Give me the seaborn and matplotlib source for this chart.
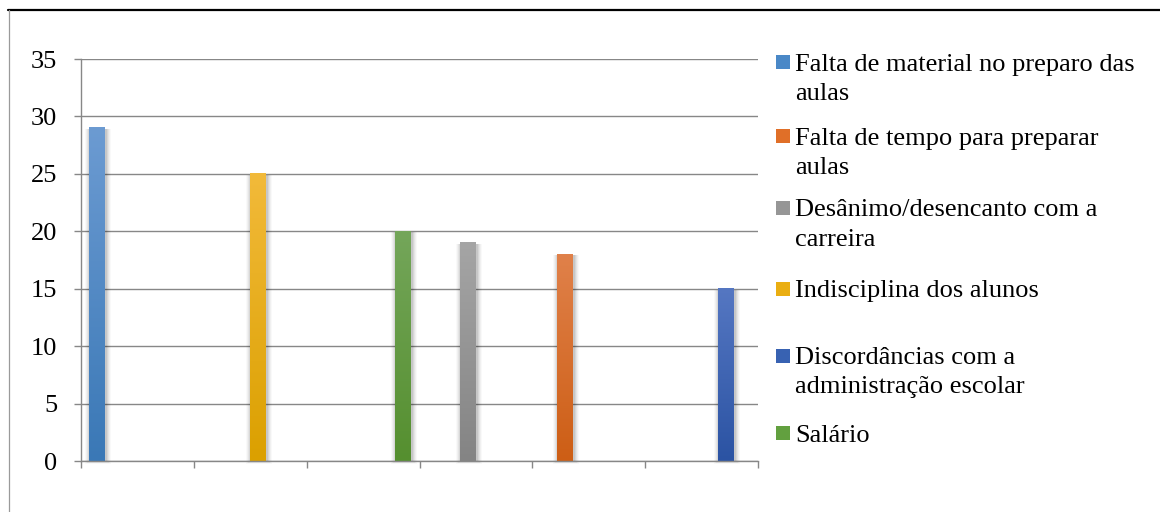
import numpy as np
import pandas as pd
import matplotlib
matplotlib.use("Agg")
import matplotlib.pyplot as plt
import seaborn as sns
from matplotlib.patches import Rectangle
from matplotlib.lines import Line2D
from matplotlib.colors import to_rgb

# Series (legend order)
series = [
    "Falta de material no preparo das aulas",
    "Falta de tempo para preparar aulas",
    "Desânimo/desencanto com a carreira",
    "Indisciplina dos alunos",
    "Discordâncias com a administração escolar",
    "Salário",
]
legend_labels = [
    "Falta de material no preparo das\naulas",
    "Falta de tempo para preparar\naulas",
    "Desânimo/desencanto com a\ncarreira",
    "Indisciplina dos alunos",
    "Discordâncias com a\nadministração escolar",
    "Salário",
]

# One bar per category group
categories = ["1", "2", "3", "4", "5", "6"]
bar_category = ["1", "2", "3", "4", "5", "6"]
bar_series = [series[0], series[3], series[5], series[2], series[1], series[4]]
bar_values = [29, 25, 20, 19, 18, 15]

# Fill colours per series: light top, dark bottom, flat legend swatch
colors_top = ["#6c9bd2", "#e0814a", "#a5a5a5", "#f2ba3a", "#5577c2", "#74a65a"]
colors_bottom = ["#3a78b6", "#cd5e15", "#848484", "#dba000", "#2b53a3", "#558f2f"]
colors_swatch = ["#4a88c7", "#e06f28", "#969696", "#eaae12", "#3862b2", "#62a03f"]

sns.set_theme(style="white")
plt.rcParams["font.family"] = ["Liberation Serif", "DejaVu Serif"]

W, H = 1160, 512
fig = plt.figure(figsize=(W / 100, H / 100), dpi=100)
fig.patch.set_facecolor("white")

ax_l, ax_r, ax_t, ax_b = 81, 758, 59, 461
ax = fig.add_axes([ax_l / W, 1 - ax_b / H, (ax_r - ax_l) / W, (ax_b - ax_t) / H])

df = pd.DataFrame({"categoria": bar_category, "serie": bar_series, "valor": bar_values})
sns.barplot(
    data=df, x="categoria", y="valor", hue="serie",
    order=categories, hue_order=series,
    palette=dict(zip(series, colors_swatch)),
    width=0.85, dodge=True, gap=0, errorbar=None, legend=False, ax=ax,
    linewidth=0,
)

ax.set_xlim(-0.5, len(categories) - 0.5)
ax.set_ylim(0, 35)

# Vertical gradient + soft shadow on every bar
px_x = (len(categories)) / (ax_r - ax_l)
px_y = 35 / (ax_b - ax_t)
swatch_rgb = [np.array(to_rgb(c)) for c in colors_swatch]
for p in list(ax.patches):
    h = p.get_height()
    if not np.isfinite(h) or h <= 0:
        continue
    x0, w = p.get_x(), p.get_width()
    fc = np.array(p.get_facecolor()[:3])
    k = int(np.argmin([np.sum((fc - s) ** 2) for s in swatch_rgb]))
    # layered translucent halo, slightly offset to the lower right
    for d, a in [(5, 0.025), (4, 0.035), (3, 0.045), (2, 0.06), (1, 0.07)]:
        ax.add_patch(Rectangle((x0 - (d - 1) * px_x, -d * px_y * 0.6),
                               w + (2 * d) * px_x, h + (d * 0.6 - 1) * px_y,
                               facecolor="black", alpha=a, lw=0, zorder=1.5,
                               clip_on=False))
    top, bot = np.array(to_rgb(colors_top[k])), np.array(to_rgb(colors_bottom[k]))
    t = np.linspace(0, 1, 200)[:, None]
    grad = (top * (1 - t) + bot * t)[:, None, :]
    ax.imshow(grad, extent=[x0, x0 + w, 0, h], aspect="auto", origin="upper",
              zorder=3, interpolation="bilinear")
    p.set_zorder(2.9)

ax.set_xlim(-0.5, len(categories) - 0.5)
ax.set_ylim(0, 35)

grid_c = "#878787"
ax.set_yticks(range(0, 36, 5))
ax.set_xticks(np.arange(-0.5, len(categories), 1.0))
ax.set_xticklabels([])
ax.set_xlabel("")
ax.set_ylabel("")
ax.yaxis.grid(True, color=grid_c, lw=1.0)
ax.xaxis.grid(False)
ax.set_axisbelow(True)
for s in ["top", "right"]:
    ax.spines[s].set_visible(False)
for s in ["left", "bottom"]:
    ax.spines[s].set_visible(True)
    ax.spines[s].set_color(grid_c)
    ax.spines[s].set_linewidth(1.0)
    ax.spines[s].set_zorder(4)
ax.tick_params(axis="both", direction="out", length=5, width=1.0, color=grid_c,
               labelsize=19, labelcolor="black", bottom=True, left=True)
ax.tick_params(axis="y", pad=12)

# Legend laid out as Excel does: swatch aligned with the first text line
first_line_y = [62, 136, 208, 289, 356, 433]
pitch = 29
for lab, col, yc in zip(legend_labels, colors_swatch, first_line_y):
    fig.add_artist(Rectangle((776 / W, 1 - (yc + 7) / H), 14 / W, 14 / H,
                             facecolor=col, lw=0, transform=fig.transFigure))
    for j, line in enumerate(lab.split("\n")):
        fig.text(795 / W, 1 - (yc + 8.5 + j * pitch) / H, line, fontsize=19,
                 color="black", va="baseline", ha="left")

# Surrounding frame
fig.add_artist(Line2D([8 / W, 1], [1 - 9.5 / H] * 2, color="black", lw=1.6,
                      transform=fig.transFigure))
fig.add_artist(Line2D([8.5 / W] * 2, [0, 1 - 9.5 / H], color="#9a9a9a", lw=0.9,
                      transform=fig.transFigure))

fig.savefig("out.png", dpi=100, facecolor="white")
